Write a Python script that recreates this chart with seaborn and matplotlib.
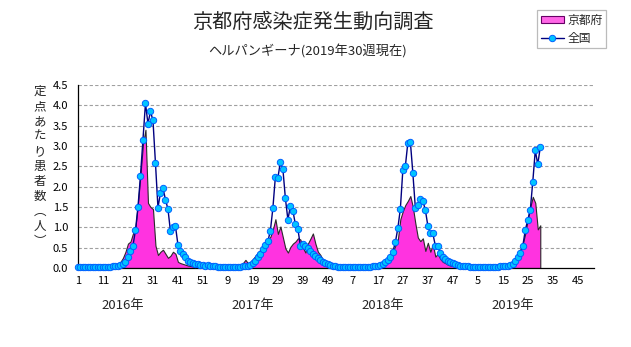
import numpy as np
import pandas as pd
import matplotlib
matplotlib.use("Agg")
import matplotlib.pyplot as plt
from matplotlib.patches import Patch
from matplotlib.lines import Line2D
from matplotlib.transforms import blended_transform_factory
import seaborn as sns

sns.set_theme(style="white")
plt.rcParams['font.family'] = ['Noto Sans CJK JP', 'DejaVu Sans']

title = "京都府感染症発生動向調査"
subtitle = "ヘルパンギーナ(2019年30週現在)"
ylabel = "定点あたり患者数︵人︶"
series_names = ["京都府", "全国"]
years = ["2016年", "2017年", "2018年", "2019年"]
weeks_per_year = [52, 52, 52, 52]

kyoto_2016 = [0.02, 0.02, 0.01, 0.01, 0.01, 0.0, 0.0, 0.01, 0.01, 0.0,
              0.01, 0.01, 0.02, 0.02, 0.03, 0.05, 0.08, 0.15, 0.25, 0.4,
              0.6, 0.65, 0.85, 1.0, 1.6, 2.3, 3.05, 3.4, 1.6, 1.5,
              1.45, 0.55, 0.32, 0.4, 0.45, 0.35, 0.25, 0.3, 0.4, 0.35,
              0.15, 0.12, 0.1, 0.08, 0.06, 0.05, 0.04, 0.03, 0.03, 0.02, 0.02, 0.02]
kyoto_2017 = [0.03, 0.02, 0.02, 0.02, 0.01, 0.01, 0.01, 0.01, 0.02, 0.02,
              0.03, 0.03, 0.05, 0.08, 0.12, 0.2, 0.12, 0.15, 0.22, 0.3,
              0.38, 0.45, 0.52, 0.6, 0.68, 0.77, 0.95, 1.2, 0.84, 1.02,
              0.75, 0.48, 0.38, 0.52, 0.6, 0.65, 0.73, 0.7, 0.5, 0.38,
              0.6, 0.72, 0.85, 0.6, 0.4, 0.32, 0.2, 0.12, 0.06, 0.04, 0.02, 0.02]
kyoto_2018 = [0.02, 0.02, 0.01, 0.01, 0.01, 0.01, 0.0, 0.0, 0.01, 0.01,
              0.01, 0.01, 0.02, 0.02, 0.03, 0.04, 0.05, 0.07, 0.1, 0.12,
              0.15, 0.25, 0.4, 0.55, 0.7, 1.2, 1.4, 1.55, 1.65, 1.77,
              1.5, 1.1, 0.75, 0.66, 0.73, 0.42, 0.62, 0.4, 0.58, 0.28,
              0.35, 0.22, 0.15, 0.12, 0.08, 0.06, 0.05, 0.04, 0.03, 0.02, 0.02, 0.01]
kyoto_2019 = [0.01, 0.01, 0.01, 0.0, 0.0, 0.0, 0.01, 0.0, 0.0, 0.01,
              0.01, 0.01, 0.02, 0.02, 0.03, 0.04, 0.05, 0.07, 0.1, 0.15,
              0.3, 0.45, 0.6, 0.85, 1.2, 1.5, 1.75, 1.6, 0.95, 1.05]

nation_2016 = [0.03, 0.03, 0.02, 0.02, 0.02, 0.02, 0.02, 0.02, 0.02, 0.02,
               0.02, 0.02, 0.03, 0.03, 0.04, 0.05, 0.06, 0.07, 0.1, 0.15,
               0.28, 0.43, 0.55, 0.93, 1.5, 2.27, 3.15, 4.05, 3.55, 3.85,
               3.63, 2.58, 1.48, 1.85, 1.97, 1.68, 1.45, 0.9, 1.0, 1.03,
               0.57, 0.42, 0.35, 0.27, 0.18, 0.15, 0.13, 0.11, 0.09, 0.08, 0.07, 0.06]
nation_2017 = [0.07, 0.06, 0.05, 0.04, 0.03, 0.03, 0.03, 0.02, 0.02, 0.02,
               0.02, 0.02, 0.02, 0.03, 0.04, 0.05, 0.06, 0.07, 0.12, 0.18,
               0.26, 0.35, 0.46, 0.56, 0.66, 0.92, 1.48, 2.25, 2.22, 2.61,
               2.43, 1.71, 1.19, 1.52, 1.41, 1.07, 0.96, 0.54, 0.6, 0.55,
               0.5, 0.42, 0.35, 0.3, 0.25, 0.2, 0.15, 0.12, 0.1, 0.07, 0.05, 0.04]
nation_2018 = [0.03, 0.03, 0.02, 0.02, 0.02, 0.02, 0.02, 0.02, 0.02, 0.02,
               0.02, 0.02, 0.03, 0.03, 0.04, 0.05, 0.06, 0.08, 0.1, 0.14,
               0.2, 0.27, 0.4, 0.63, 0.98, 1.45, 2.41, 2.5, 3.08, 3.11,
               2.34, 1.48, 1.55, 1.7, 1.65, 1.43, 1.04, 0.85, 0.85, 0.55,
               0.53, 0.36, 0.27, 0.22, 0.18, 0.15, 0.12, 0.1, 0.08, 0.06, 0.05, 0.04]
nation_2019 = [0.04, 0.03, 0.02, 0.02, 0.02, 0.02, 0.02, 0.02, 0.02, 0.02,
               0.02, 0.03, 0.03, 0.04, 0.05, 0.05, 0.06, 0.07, 0.1, 0.17,
               0.28, 0.38, 0.54, 0.93, 1.18, 1.43, 2.12, 2.89, 2.55, 2.97]

xtick_labels = ["1", "11", "21", "31", "41", "51", "9", "19", "29", "39", "49",
                "7", "17", "27", "37", "47", "5", "15", "25", "35", "45"]
ytick_values = [0.0, 0.5, 1.0, 1.5, 2.0, 2.5, 3.0, 3.5, 4.0, 4.5]

kyoto = kyoto_2016 + kyoto_2017 + kyoto_2018 + kyoto_2019
nation = nation_2016 + nation_2017 + nation_2018 + nation_2019
df = pd.DataFrame({"idx": np.arange(len(nation)), "kyoto": kyoto, "nation": nation})
total_weeks = sum(weeks_per_year)

W, H = 631, 347
fig = plt.figure(figsize=(W / 100, H / 100), dpi=100)
ax = fig.add_axes([78 / W, 1 - 268 / H, (594 - 78) / W, (268 - 85) / H])

fill_col = "#FF33E0"
ax.fill_between(df["idx"], 0, df["kyoto"], facecolor=fill_col, edgecolor="#2a2a2a",
                linewidth=0.8, zorder=2)
sns.lineplot(data=df, x="idx", y="nation", ax=ax, color="#000080", linewidth=1.0,
             marker="o", markersize=4.6, markerfacecolor="#00C4FF",
             markeredgecolor="#0060FF", markeredgewidth=0.7, zorder=4, clip_on=False)

ax.set_xlim(0, total_weeks - 1.5)
ax.set_ylim(0, 4.5)
ax.set_yticks(ytick_values)
ax.set_yticklabels([f"{v:.1f}" for v in ytick_values])
ax.set_xticks(np.arange(0, 10 * len(xtick_labels), 10))
ax.set_xticklabels(xtick_labels)
ax.set_xlabel("")
ax.set_ylabel("")
ax.tick_params(axis="x", direction="in", length=4, width=0.8, pad=6, labelsize=8, colors="black")
ax.tick_params(axis="y", direction="out", length=3, width=0.8, pad=4, labelsize=8, colors="black")
for v in ytick_values[1:]:
    ax.axhline(v, color="#a0a0a0", linewidth=0.8, linestyle=(0, (3, 2)), zorder=1)
for s in ["top", "right"]:
    ax.spines[s].set_visible(False)
for s in ["left", "bottom"]:
    ax.spines[s].set_color("black")
    ax.spines[s].set_linewidth(0.9)
    ax.spines[s].set_zorder(3)

# year labels
tr = blended_transform_factory(ax.transData, fig.transFigure)
year_start = np.cumsum([0] + weeks_per_year[:-1])
for ys, lab in zip(year_start, years):
    ax.text(ys + 18, 1 - 306 / H, lab, transform=tr, ha="center", va="center", fontsize=9.5)

fig.text(313 / W, 1 - 22 / H, title, ha="center", va="center", fontsize=14.5)
fig.text(308 / W, 1 - 51 / H, subtitle, ha="center", va="center", fontsize=9.5)
fig.text(40 / W, 1 - 85 / H, "\n".join(ylabel), ha="center", va="top", fontsize=9,
         linespacing=1.2)

handles = [Patch(facecolor="#FF66E6", edgecolor="#660066", linewidth=0.8),
           Line2D([0], [0], color="#000080", linewidth=1.0, marker="o", markersize=4.6,
                  markerfacecolor="#00C4FF", markeredgecolor="#0060FF", markeredgewidth=0.7)]
leg = fig.legend(handles, series_names, loc="upper left", bbox_to_anchor=(537 / W, 1 - 10 / H),
                 frameon=True, fancybox=False, fontsize=8.5, handlelength=2.0, handleheight=0.5,
                 handletextpad=0.25, borderpad=0.3, labelspacing=0.45, borderaxespad=0)
leg.get_frame().set_edgecolor("#aaaaaa")
leg.get_frame().set_linewidth(0.9)

fig.savefig("out.png", dpi=100)
